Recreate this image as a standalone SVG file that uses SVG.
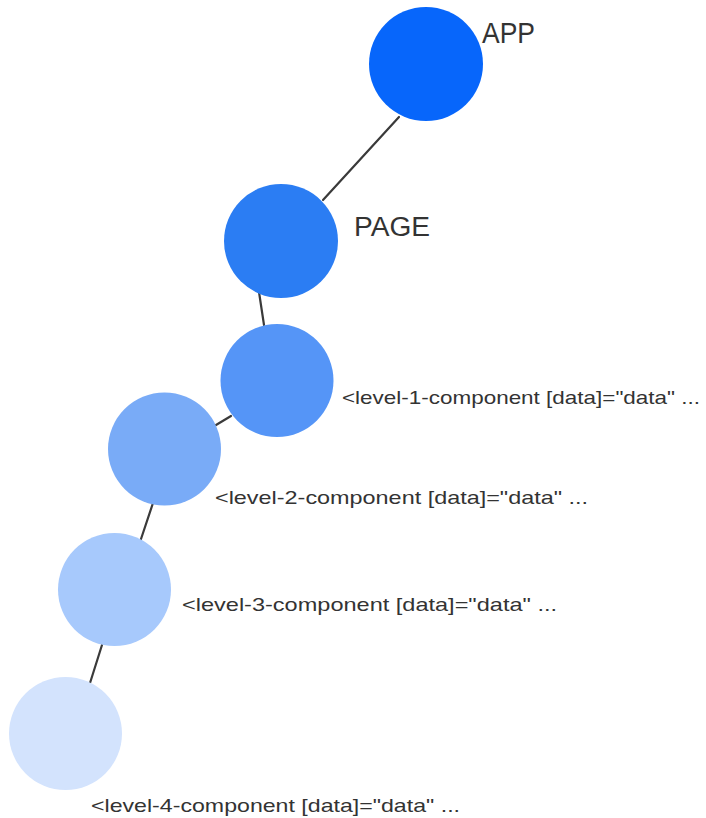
<svg xmlns="http://www.w3.org/2000/svg" width="706" height="818" viewBox="0 0 706 818">
  <style>
    .bg { fill: #ffffff; }
    .link { stroke: #3a3a3a; stroke-width: 2.2; stroke-linecap: round; fill: none; }
    .title { font-family: "Liberation Sans", "DejaVu Sans", sans-serif; fill: #333333; }
    .code { font-family: "Liberation Sans", "DejaVu Sans", sans-serif; font-size: 19px; fill: #333333; }
  </style>
  <rect class="bg" x="0" y="0" width="706" height="818"/>

  <!-- tree edges, drawn beneath the nodes -->
  <g id="connectors">
    <line class="link" x1="399" y1="117" x2="323" y2="200"/>
    <line class="link" x1="259" y1="292" x2="264" y2="325"/>
    <line class="link" x1="231" y1="416" x2="216" y2="425"/>
    <line class="link" x1="153" y1="503" x2="140" y2="542"/>
    <line class="link" x1="102" y1="645" x2="90" y2="683"/>
  </g>

  <g id="app">
    <circle cx="426" cy="64" r="57" fill="#0766fb"/>
    <text class="title" x="482" y="43" font-size="30" textLength="53" lengthAdjust="spacingAndGlyphs">APP</text>
  </g>

  <g id="page">
    <circle cx="281" cy="241" r="57" fill="#2b7df3"/>
    <text class="title" x="354" y="236" font-size="27" textLength="76" lengthAdjust="spacingAndGlyphs">PAGE</text>
  </g>

  <g id="level-1">
    <circle cx="277" cy="380.5" r="56.5" fill="#5595f7"/>
    <text class="code" x="342" y="404" textLength="358" lengthAdjust="spacingAndGlyphs">&lt;level-1-component [data]="data" ...</text>
  </g>

  <g id="level-2">
    <circle cx="164.5" cy="449" r="56.5" fill="#79abf7"/>
    <text class="code" x="215" y="504" textLength="373" lengthAdjust="spacingAndGlyphs">&lt;level-2-component [data]="data" ...</text>
  </g>

  <g id="level-3">
    <circle cx="114.5" cy="589.5" r="56.5" fill="#a7c9fc"/>
    <text class="code" x="182" y="611" textLength="375" lengthAdjust="spacingAndGlyphs">&lt;level-3-component [data]="data" ...</text>
  </g>

  <g id="level-4">
    <circle cx="65.5" cy="733.5" r="56.5" fill="#d3e3fd"/>
    <text class="code" x="91" y="812" textLength="369" lengthAdjust="spacingAndGlyphs">&lt;level-4-component [data]="data" ...</text>
  </g>
</svg>
